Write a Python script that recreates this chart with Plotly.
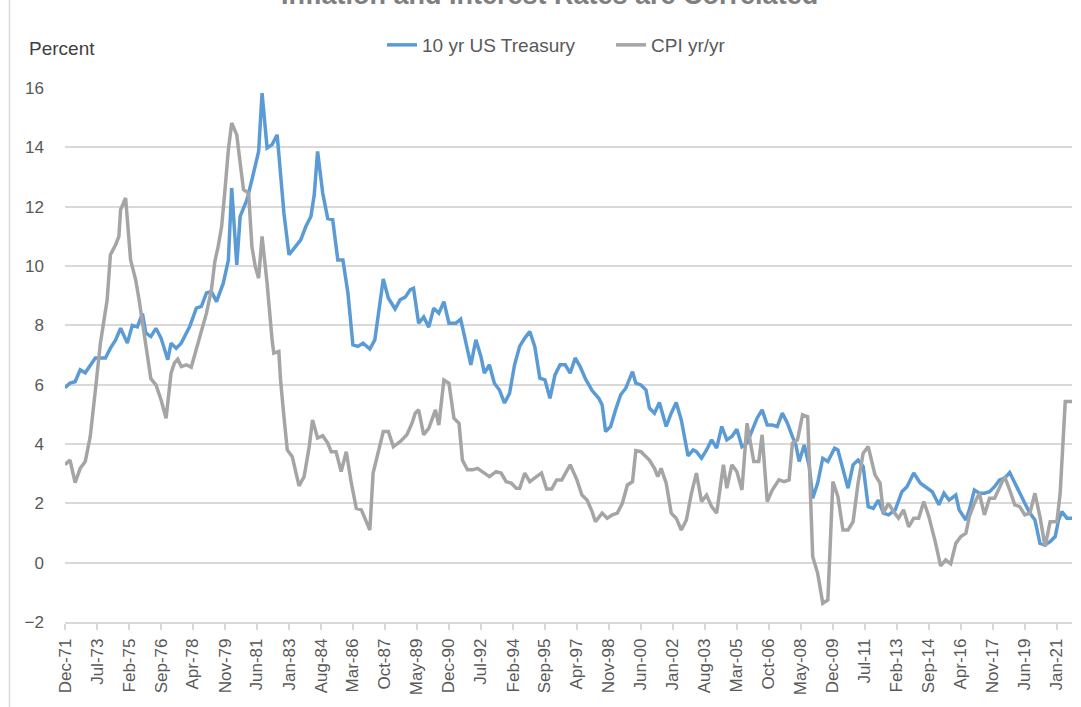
import plotly.graph_objects as go
import pandas as pd

# ---------------- data ----------------
tsy_dates = [
    "1971-12", "1972-03", "1972-06", "1972-09", "1972-12", "1973-03", "1973-06", "1973-12",
    "1974-03", "1974-06", "1974-09", "1975-01", "1975-04", "1975-07", "1975-10", "1975-12",
    "1976-03", "1976-06", "1976-09", "1977-01", "1977-03", "1977-06", "1977-09", "1978-02",
    "1978-06", "1978-09", "1978-12", "1979-03", "1979-06", "1979-10", "1980-01", "1980-03",
    "1980-06", "1980-08", "1980-12", "1981-03", "1981-07", "1981-09", "1981-12", "1982-03",
    "1982-06", "1982-10", "1983-01", "1983-05", "1983-08", "1983-11", "1984-02", "1984-04",
    "1984-06", "1984-09", "1984-12", "1985-03", "1985-06", "1985-09", "1985-12", "1986-03",
    "1986-06", "1986-09", "1987-01", "1987-04", "1987-06", "1987-09", "1987-12", "1988-04",
    "1988-07", "1988-10", "1989-01", "1989-03", "1989-06", "1989-09", "1989-12", "1990-03",
    "1990-06", "1990-09", "1990-12", "1991-04", "1991-07", "1991-10", "1992-01", "1992-04",
    "1992-07", "1992-09", "1992-12", "1993-03", "1993-06", "1993-09", "1993-12", "1994-03",
    "1994-06", "1994-09", "1994-12", "1995-03", "1995-06", "1995-09", "1995-12", "1996-03",
    "1996-06", "1996-09", "1996-12", "1997-03", "1997-06", "1997-09", "1998-01", "1998-05",
    "1998-07", "1998-09", "1998-12", "1999-03", "1999-06", "1999-09", "2000-01", "2000-03",
    "2000-06", "2000-09", "2000-11", "2001-02", "2001-05", "2001-09", "2001-12", "2002-03",
    "2002-06", "2002-10", "2003-01", "2003-03", "2003-06", "2003-09", "2003-12", "2004-03",
    "2004-06", "2004-09", "2004-12", "2005-03", "2005-06", "2005-09", "2005-12", "2006-03",
    "2006-06", "2006-09", "2006-12", "2007-03", "2007-06", "2007-09", "2007-12", "2008-02",
    "2008-04", "2008-07", "2008-10", "2008-12", "2009-03", "2009-06", "2009-09", "2010-01",
    "2010-03", "2010-06", "2010-09", "2010-12", "2011-03", "2011-06", "2011-09", "2011-12",
    "2012-03", "2012-06", "2012-09", "2013-01", "2013-05", "2013-08", "2013-12", "2014-04",
    "2014-08", "2014-11", "2015-03", "2015-06", "2015-09", "2016-01", "2016-03", "2016-07",
    "2016-09", "2016-12", "2017-03", "2017-06", "2017-09", "2017-12", "2018-03", "2018-06",
    "2018-09", "2018-12", "2019-03", "2019-06", "2019-09", "2019-12", "2020-03", "2020-06",
    "2020-09", "2020-12", "2021-02", "2021-04", "2021-07", "2021-10",
]
tsy_values = [
    5.9, 6.05, 6.1, 6.5, 6.4, 6.67, 6.9, 6.9,
    7.23, 7.5, 7.9, 7.4, 8.0, 7.95, 8.4, 7.74,
    7.62, 7.9, 7.57, 6.84, 7.4, 7.23, 7.4, 7.96,
    8.58, 8.64, 9.09, 9.14, 8.8, 9.42, 10.2, 12.63,
    10.04, 11.67, 12.23, 12.9, 13.86, 15.83, 13.98, 14.09,
    14.42, 11.78, 10.38, 10.66, 10.88, 11.33, 11.67, 12.4,
    13.86, 12.46, 11.6, 11.56, 10.2, 10.2, 9.09, 7.34,
    7.29, 7.4, 7.2, 7.51, 8.3, 9.56, 8.92, 8.55,
    8.86, 8.95, 9.2, 9.25, 8.07, 8.28, 7.94, 8.58,
    8.41, 8.8, 8.07, 8.07, 8.21, 7.4, 6.67, 7.51,
    6.95, 6.39, 6.67, 6.05, 5.82, 5.38, 5.71, 6.67,
    7.29, 7.57, 7.79, 7.29, 6.22, 6.16, 5.54, 6.33,
    6.67, 6.67, 6.39, 6.9, 6.6, 6.2, 5.8, 5.54,
    5.32, 4.42, 4.59, 5.15, 5.66, 5.88, 6.44, 6.05,
    5.99, 5.82, 5.21, 5.04, 5.4, 4.59, 5.04, 5.4,
    4.81, 3.6, 3.8, 3.74, 3.52, 3.8, 4.14, 3.86,
    4.59, 4.14, 4.25, 4.5, 3.91, 4.03, 4.48, 4.87,
    5.15, 4.64, 4.64, 4.59, 5.04, 4.7, 4.25, 3.97,
    3.41, 3.97, 3.24, 2.17, 2.68, 3.52, 3.41, 3.86,
    3.8, 3.13, 2.51, 3.3, 3.46, 3.24, 1.89, 1.83,
    2.11, 1.67, 1.61, 1.78, 2.39, 2.56, 3.02, 2.68,
    2.51, 2.39, 1.95, 2.34, 2.11, 2.28, 1.78, 1.44,
    1.78, 2.45, 2.34, 2.34, 2.39, 2.56, 2.79, 2.85,
    3.04, 2.68, 2.34, 2.0, 1.67, 1.44, 0.65, 0.6,
    0.71, 0.88, 1.44, 1.72, 1.5, 1.5,
]

cpi_dates = [
    "1971-12", "1972-03", "1972-06", "1972-09", "1972-12", "1973-03", "1973-06", "1973-09",
    "1974-01", "1974-03", "1974-06", "1974-08", "1974-09", "1974-11", "1974-12", "1975-03",
    "1975-06", "1975-08", "1975-11", "1976-01", "1976-03", "1976-06", "1976-09", "1976-12",
    "1977-03", "1977-05", "1977-07", "1977-09", "1977-12", "1978-03", "1978-06", "1978-09",
    "1978-12", "1979-03", "1979-05", "1979-07", "1979-09", "1979-11", "1980-01", "1980-03",
    "1980-06", "1980-08", "1980-10", "1981-01", "1981-03", "1981-05", "1981-07", "1981-09",
    "1981-12", "1982-03", "1982-04", "1982-07", "1982-08", "1982-10", "1982-12", "1983-03",
    "1983-07", "1983-10", "1984-01", "1984-03", "1984-06", "1984-09", "1984-12", "1985-02",
    "1985-05", "1985-08", "1985-11", "1986-02", "1986-05", "1986-08", "1987-01", "1987-03",
    "1987-06", "1987-09", "1987-12", "1988-03", "1988-07", "1988-11", "1989-02", "1989-04",
    "1989-06", "1989-09", "1989-12", "1990-04", "1990-06", "1990-09", "1990-12", "1991-03",
    "1991-06", "1991-08", "1991-11", "1992-02", "1992-05", "1992-08", "1992-12", "1993-04",
    "1993-07", "1993-10", "1994-01", "1994-04", "1994-06", "1994-09", "1994-12", "1995-04",
    "1995-07", "1995-10", "1996-01", "1996-04", "1996-07", "1996-12", "1997-04", "1997-07",
    "1997-10", "1998-01", "1998-03", "1998-07", "1998-10", "1999-01", "1999-04", "1999-07",
    "1999-10", "2000-01", "2000-03", "2000-06", "2000-09", "2000-11", "2001-02", "2001-04",
    "2001-06", "2001-09", "2001-12", "2002-03", "2002-06", "2002-09", "2002-12", "2003-03",
    "2003-06", "2003-09", "2003-12", "2004-03", "2004-07", "2004-09", "2004-12", "2005-03",
    "2005-06", "2005-09", "2006-01", "2006-04", "2006-06", "2006-09", "2006-12", "2007-04",
    "2007-07", "2007-10", "2007-12", "2008-03", "2008-06", "2008-09", "2008-12", "2009-03",
    "2009-06", "2009-09", "2009-12", "2010-03", "2010-06", "2010-09", "2010-12", "2011-03",
    "2011-06", "2011-09", "2012-01", "2012-04", "2012-06", "2012-09", "2012-12", "2013-03",
    "2013-06", "2013-09", "2013-12", "2014-03", "2014-06", "2014-09", "2015-01", "2015-04",
    "2015-07", "2015-10", "2016-01", "2016-04", "2016-07", "2016-09", "2016-12", "2017-03",
    "2017-06", "2017-09", "2017-12", "2018-03", "2018-06", "2018-09", "2018-12", "2019-03",
    "2019-06", "2019-09", "2019-12", "2020-03", "2020-06", "2020-09", "2021-01", "2021-03",
    "2021-06", "2021-10",
]
cpi_values = [
    3.3, 3.46, 2.7, 3.18, 3.41, 4.25, 5.8, 7.4,
    8.86, 10.38, 10.71, 11.0, 11.9, 12.12, 12.29, 10.2,
    9.53, 8.86, 7.74, 6.84, 6.2, 5.99, 5.49, 4.87,
    6.39, 6.73, 6.86, 6.61, 6.67, 6.59, 7.2, 7.74,
    8.41, 9.2, 10.15, 10.66, 11.33, 12.57, 13.92, 14.82,
    14.42, 13.47, 12.57, 12.46, 10.66, 9.98, 9.59, 11.0,
    9.42, 7.51, 7.06, 7.12, 6.16, 4.92, 3.8, 3.57,
    2.59, 2.9, 3.91, 4.81, 4.2, 4.28, 4.03, 3.74,
    3.74, 3.07, 3.74, 2.68, 1.83, 1.78, 1.1, 3.02,
    3.69, 4.42, 4.42, 3.91, 4.08, 4.31, 4.7, 5.04,
    5.15, 4.31, 4.53, 5.15, 4.64, 6.16, 6.05, 4.87,
    4.7, 3.46, 3.13, 3.13, 3.18, 3.07, 2.9, 3.07,
    3.02, 2.73, 2.68, 2.51, 2.51, 3.02, 2.73, 2.9,
    3.02, 2.48, 2.48, 2.79, 2.79, 3.3, 2.79, 2.28,
    2.11, 1.72, 1.38, 1.67, 1.5, 1.61, 1.67, 2.0,
    2.62, 2.73, 3.78, 3.74, 3.57, 3.46, 3.18, 2.9,
    3.18, 2.68, 1.67, 1.5, 1.1, 1.44, 2.34, 3.02,
    2.06, 2.28, 1.89, 1.67, 3.3, 2.51, 3.3, 3.07,
    2.45, 4.7, 3.41, 3.41, 4.31, 2.06, 2.45, 2.79,
    2.73, 2.79, 4.03, 4.14, 4.98, 4.92, 0.2, -0.36,
    -1.37, -1.26, 2.73, 2.23, 1.1, 1.1, 1.38, 2.68,
    3.69, 3.91, 2.96, 2.68, 1.67, 2.0, 1.72, 1.5,
    1.78, 1.21, 1.5, 1.5, 2.06, 1.55, 0.65, -0.11,
    0.09, -0.04, 0.65, 0.88, 0.99, 1.55, 2.0, 2.34,
    1.61, 2.17, 2.17, 2.51, 2.9, 2.45, 1.95, 1.89,
    1.61, 1.67, 2.34, 1.55, 0.54, 1.38, 1.38, 2.34,
    5.43, 5.43,
]

tick_labels = [
    "Dec-71", "Jul-73", "Feb-75", "Sep-76", "Apr-78", "Nov-79", "Jun-81", "Jan-83",
    "Aug-84", "Mar-86", "Oct-87", "May-89", "Dec-90", "Jul-92", "Feb-94", "Sep-95",
    "Apr-97", "Nov-98", "Jun-00", "Jan-02", "Aug-03", "Mar-05", "Oct-06", "May-08",
    "Dec-09", "Jul-11", "Feb-13", "Sep-14", "Apr-16", "Nov-17", "Jun-19", "Jan-21",
]
y_ticks = [-2, 0, 2, 4, 6, 8, 10, 12, 14, 16]

series_names = ["10 yr US Treasury", "CPI yr/yr"]
title_text = "Inflation and Interest Rates are Correlated"
y_title = "Percent"

tick_vals = pd.to_datetime(tick_labels, format="%b-%y")

FONT = "Liberation Sans"
BLUE = "#5B9BD5"
GREY = "#A5A5A5"
GRID = "#D9D9D9"
TXT = "#595959"

W, H = 1081, 707
L, R, T, B = 65, 9, 88, 85
PW, PH = W - L - R, H - T - B


def px_x(p):
    """page pixel -> paper x"""
    return (p - L) / PW


def px_y(p):
    """page pixel -> paper y"""
    return (H - B - p) / PH


fig = go.Figure()
fig.add_trace(go.Scatter(
    x=pd.to_datetime(tsy_dates), y=tsy_values, mode="lines", name=series_names[0],
    line=dict(color=BLUE, width=3.5),
))
fig.add_trace(go.Scatter(
    x=pd.to_datetime(cpi_dates), y=cpi_values, mode="lines", name=series_names[1],
    line=dict(color=GREY, width=3.5),
))

fig.update_layout(
    width=W, height=H,
    margin=dict(l=L, r=R, t=T, b=B, autoexpand=False),
    paper_bgcolor="white", plot_bgcolor="white",
    font=dict(family=FONT, color=TXT, size=17),
    showlegend=True,
    legend=dict(
        orientation="h", xref="paper", yref="paper",
        x=px_x(382), xanchor="left", y=px_y(45), yanchor="middle",
        font=dict(size=19, color=TXT, family=FONT),
        bgcolor="rgba(0,0,0,0)", entrywidth=184, entrywidthmode="pixels",
        borderwidth=0,
    ),
    xaxis=dict(
        type="date", automargin=False,
        range=["1971-12-01", "2021-10-01"],
        tickmode="array", tickvals=tick_vals, ticktext=tick_labels,
        tickangle=-90, tickfont=dict(size=17, color=TXT, family=FONT),
        showgrid=False, zeroline=False,
        showline=True, linecolor=GRID, linewidth=1.5,
        ticks="outside", ticklen=6, tickcolor=GRID, tickwidth=1.5,
        ticklabelstandoff=2,
    ),
    yaxis=dict(
        range=[-2, 16], tickmode="array", tickvals=y_ticks, automargin=False,
        tickfont=dict(size=17, color=TXT, family=FONT),
        showgrid=True, gridcolor=GRID, gridwidth=1.5,
        zeroline=False, showline=False, ticks="",
        ticklabelstandoff=20,
    ),
)

fig.add_annotation(
    text=y_title, xref="paper", yref="paper", x=px_x(27), y=px_y(48),
    xanchor="left", yanchor="middle", showarrow=False,
    font=dict(size=19, color="#404040", family=FONT),
)
# chart title: in the reference it sits mostly above the top edge of the image
fig.add_annotation(
    text="<b>" + title_text + "</b>", xref="paper", yref="paper",
    x=px_x(549), y=px_y(12), xanchor="center", yanchor="bottom",
    showarrow=False, font=dict(size=27, color="#7F7F7F", family=FONT),
)
fig.add_shape(
    type="line", xref="paper", yref="paper",
    x0=px_x(9.5), x1=px_x(9.5), y0=-0.3, y1=1.3,
    line=dict(color=GRID, width=1.5),
)

# remove the browser's default 8px body margin so the figure fills the window
fig.write_html(
    "out.html",
    config={"displayModeBar": False},
    post_script="document.body.style.margin='0px';document.body.style.overflow='hidden';",
)
